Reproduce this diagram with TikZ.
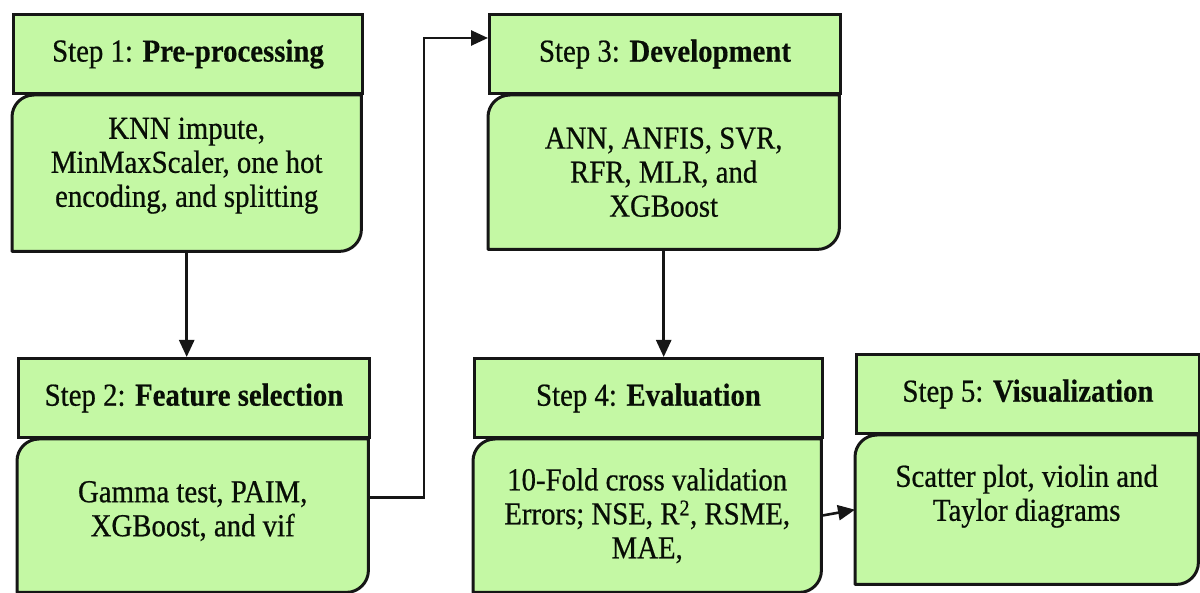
\documentclass[tikz,border=0pt]{standalone}
\usepackage{fontspec}
\newfontfamily\stepserif{Liberation Serif}[FakeStretch=0.9,
  UprightFeatures={FakeBold=0.6}, BoldFeatures={FakeBold=0.4}]
\usetikzlibrary{arrows.meta,backgrounds,calc}
\definecolor{stepfill}{RGB}{196,248,164}
\definecolor{stepline}{RGB}{22,22,22}
\definecolor{steptext}{RGB}{8,14,6}

\tikzset{
  stepfont/.style={font=\stepserif\fontsize{32}{34}\selectfont, text=steptext},
  head/.style={stepfont, draw=stepline, line width=3pt, fill=stepfill,
    minimum height=79pt, anchor=north west, inner sep=0pt},
  body/.style={stepfont, minimum height=154pt, anchor=north west,
    inner sep=0pt, align=center},
  outline/.style={draw=stepline, line width=3pt, fill=stepfill, line join=round},
  arr/.style={draw=stepline, line width=2.6pt, -{Triangle[length=17pt,width=15pt]}}
}

% body box: rounded top-left and bottom-right corners
\newcommand\bodyshape[1]{%
  \path[outline] (#1.north) -- (#1.north east)
    -- ([yshift=22pt]#1.south east) arc[start angle=0,end angle=-90,radius=22pt]
    -- (#1.south west)
    -- ([yshift=-22pt]#1.north west) arc[start angle=180,end angle=90,radius=22pt]
    -- cycle;}

\begin{document}
\begin{tikzpicture}[x=1pt,y=1pt]
\useasboundingbox (0,0) rectangle (1200,592);

% Step 1
\node[head, minimum width=349pt] (h1) at (12,579) {Step 1: \textbf{Pre-processing}};
\node[body, minimum width=349pt, minimum height=156pt] (b1) at (h1.south west)
  {KNN impute,\\MinMaxScaler, one hot\\encoding, and splitting\\[-12pt]\mbox{}};

% Step 2
\node[head, minimum width=351pt] (h2) at (17,235) {Step 2: \textbf{Feature selection}};
\node[body, minimum width=351pt, minimum height=153pt] (b2) at (h2.south west)
  {\mbox{}\\[-22pt]Gamma test, PAIM,\\XGBoost, and vif};

% Step 3
\node[head, minimum width=351pt] (h3) at (488,579) {Step 3: \textbf{Development}};
\node[body, minimum width=351pt, minimum height=154pt] (b3) at (h3.south west)
  {ANN, ANFIS, SVR,\\RFR, MLR, and\\XGBoost};

% Step 4
\node[head, minimum width=348pt] (h4) at (473,235) {Step 4: \textbf{Evaluation}};
\node[body, minimum width=348pt, minimum height=153pt] (b4) at (h4.south west)
  {10-Fold cross validation\\Errors; NSE, R\textsuperscript{2}, RSME,\\MAE,};

% Step 5
\node[head, minimum width=343pt] (h5) at (855,239) {Step 5: \textbf{Visualization}};
\node[body, minimum width=343pt, minimum height=149pt] (b5) at (h5.south west)
  {Scatter plot, violin and\\Taylor diagrams\\\mbox{}};

\begin{scope}[on background layer]
  \bodyshape{b1}
  \bodyshape{b2}
  \bodyshape{b3}
  \bodyshape{b4}
  \bodyshape{b5}
\end{scope}

% connectors
\coordinate (turn) at (424,554);
\draw[arr] (b1.south) -- (b1.south |- h2.north);
\draw[arr] ([yshift=18pt]b2.east) -| (turn) -- (h3.west |- turn);
\draw[arr] (b3.south) -- (b3.south |- h4.north);
\draw[arr] (b4.east) -- (b5.west);
\end{tikzpicture}
\end{document}
